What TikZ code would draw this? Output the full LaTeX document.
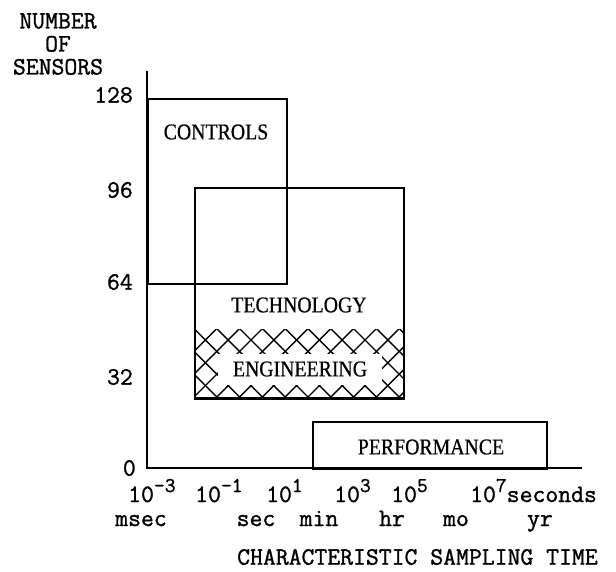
\documentclass[tikz,border=0pt]{standalone}
\usepackage{fontspec}
\newfontfamily\boxfont{Liberation Serif}[FakeStretch=0.88,FakeBold=0.6]
\newfontfamily\typefont{Latin Modern Mono}[FakeBold=1.2]
\newcommand\sups[1]{\raisebox{0.40em}{\fontsize{21}{21}\selectfont #1}}
\begin{document}
\begin{tikzpicture}[x=1pt,y=-1pt,
  lab/.style={font=\fontsize{25}{23}\selectfont\typefont, inner sep=0pt},
  boxlab/.style={font=\fontsize{22.5}{24}\selectfont\boxfont, inner sep=0pt},
  frame/.style={line width=1.7pt},
  hatchline/.style={line width=1.4pt}]
\useasboundingbox (0,0) rectangle (616,572);
% axes
\coordinate (ytop) at (147,71);
\coordinate (orig) at (147,468);
\coordinate (xend) at (582,468);
\draw[frame, line width=2pt] (ytop) -- (orig) -- (xend);
% hatch band
\begin{scope}
  \clip (194,329) rectangle (403,397);
  \foreach \k in {-4,...,10}{
    \draw[hatchline] ({194+\k*22.8},397) -- ({194+\k*22.8+68.4},328.6);
    \draw[hatchline] ({194+\k*22.8},328.6) -- ({194+\k*22.8+68.4},397);
  }
\end{scope}
% boxes
\node[draw, frame, minimum width=139pt, minimum height=185pt, anchor=north west, inner sep=0pt] (controls) at (147,98) {};
\node[draw, frame, minimum width=209pt, minimum height=210pt, anchor=north west, inner sep=0pt] (tech) at (194,187) {};
\draw[line width=2.8pt] (tech.south west) -- (tech.south east);
\node[draw, frame, minimum width=234pt, minimum height=47pt, anchor=north west, inner sep=0pt] (perf) at (312,421) {};
% box labels
\node[boxlab] (tcontrols) at (216,132) {CONTROLS};
\node[boxlab] (ttech) at (299,305) {TECHNOLOGY};
\node[boxlab, fill=white, minimum width=164pt, minimum height=31pt] (teng) at (300,369) {ENGINEERING};
\node[boxlab] (tperf) at (431,447) {PERFORMANCE};
% y axis title and ticks
\node[lab, align=center] (ytitle) at (58,44) {NUMBER\\OF\\SENSORS};
\node[lab, anchor=east] (y128) at (133,95) {128};
\node[lab, anchor=east] (y96) at (133,190) {96};
\node[lab, anchor=east] (y64) at (133,282) {64};
\node[lab, anchor=east] (y32) at (133,377) {32};
\node[lab, anchor=east] (y0) at (136,468) {0};
% x tick labels
\node[lab, anchor=base west] (xm3) at (128,502) {10\sups{-3}};
\node[lab, anchor=base west] (xm1) at (195,502) {10\sups{-1}};
\node[lab, anchor=base west] (x1) at (266,502) {10\sups{1}};
\node[lab, anchor=base west] (x3) at (334,502) {10\sups{3}};
\node[lab, anchor=base west] (x5) at (391,502) {10\sups{5}};
\node[lab, anchor=base west] (x7) at (470,502) {10\sups{7}seconds};
% unit labels
\node[lab, anchor=base] (umsec) at (141,526) {msec};
\node[lab, anchor=base] (usec) at (256,526) {sec};
\node[lab, anchor=base] (umin) at (319,526) {min};
\node[lab, anchor=base] (uhr) at (392,526) {hr};
\node[lab, anchor=base] (umo) at (456,526) {mo};
\node[lab, anchor=base] (uyr) at (540,526) {yr};
% x axis title
\node[lab, anchor=west] (xtitle) at (237,557) {CHARACTERISTIC SAMPLING TIME};
\end{tikzpicture}
\end{document}
